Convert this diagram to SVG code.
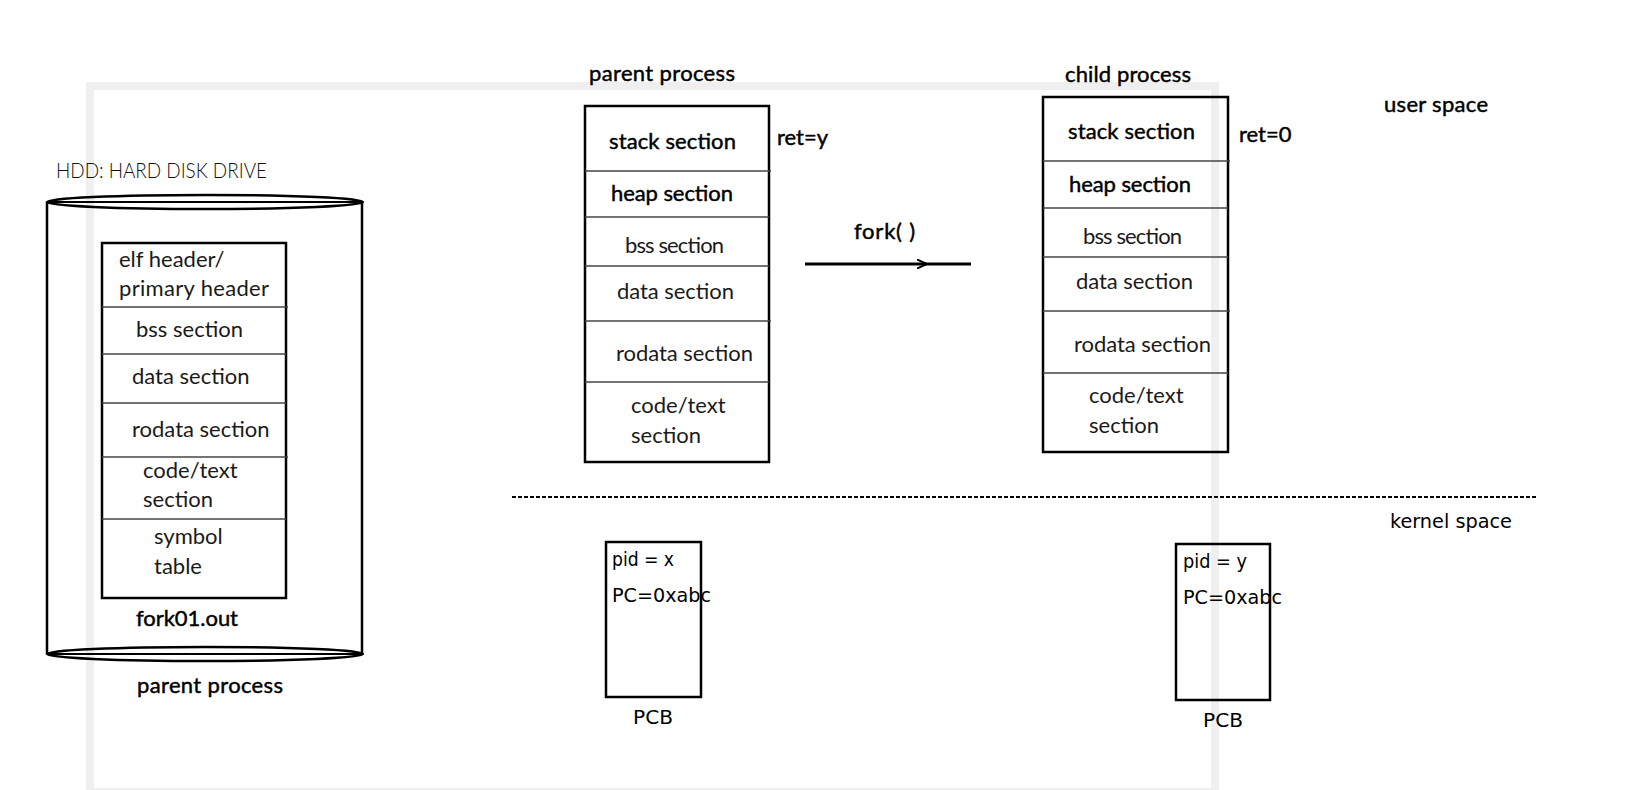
<svg xmlns="http://www.w3.org/2000/svg" width="1634" height="790" viewBox="0 0 1634 790">
<style>
.frame{fill:none;stroke:#efefef;stroke-width:8}
.box{fill:none;stroke:#000;stroke-width:2.5}
.div{stroke:#444;stroke-width:1.5}
.cyl{fill:none;stroke:#000;stroke-width:2.5}
.t{font-family:Lato,"Open Sans",sans-serif;font-size:22px;fill:#111}
.b{font-weight:normal;fill:#000;stroke:#000;stroke-width:0.45}
.l{font-weight:normal;fill:#1a1a1a}
.cn{font-family:"DejaVu Sans Condensed","DejaVu Sans",sans-serif;font-stretch:condensed;font-size:20px;fill:#000}
</style>
<defs>
<marker id="chev" viewBox="0 0 10 10" refX="10" refY="5" markerWidth="10" markerHeight="10" markerUnits="userSpaceOnUse" orient="auto">
<path d="M0,0.5 L10,5 L0,9.5" fill="none" stroke="#000" stroke-width="2"/>
</marker>
</defs>
<rect width="1634" height="790" fill="#fff"/>
<rect class="frame" x="90" y="86" width="1125" height="706"/>

<g id="hdd">
<text class="t" x="56" y="178" font-size="18" font-weight="300" textLength="211" lengthAdjust="spacingAndGlyphs">HDD: HARD DISK DRIVE</text>
<line class="cyl" x1="47" y1="202" x2="47" y2="654"/>
<line class="cyl" x1="362" y1="202" x2="362" y2="654"/>
<ellipse class="cyl" cx="205" cy="202" rx="158" ry="7" fill="#fff"/>
<line x1="48" y1="202" x2="362" y2="202" stroke="#000" stroke-width="2"/>
<ellipse class="cyl" cx="205" cy="654" rx="158" ry="7" fill="#fff"/>
<line x1="48" y1="654" x2="362" y2="654" stroke="#000" stroke-width="2"/>
<rect class="box" x="102" y="243" width="184" height="355" stroke-width="2"/>
<line class="div" x1="102" y1="307" x2="288" y2="307"/>
<line class="div" x1="102" y1="354" x2="286" y2="354"/>
<line class="div" x1="102" y1="403" x2="286" y2="403"/>
<line class="div" x1="102" y1="457" x2="288" y2="457"/>
<line class="div" x1="102" y1="519" x2="286" y2="519"/>
<text class="t l" x="119" y="267">elf header/</text>
<text class="t l" x="119" y="296" textLength="150">primary header</text>
<text class="t l" x="136" y="337">bss section</text>
<text class="t l" x="132" y="384">data section</text>
<text class="t l" x="132" y="437">rodata section</text>
<text class="t l" x="143" y="478">code/text</text>
<text class="t l" x="143" y="507">section</text>
<text class="t l" x="154" y="544">symbol</text>
<text class="t l" x="154" y="574">table</text>
<text class="t b" x="136" y="626" textLength="102">fork01.out</text>
<text class="t b" x="137" y="693" textLength="146">parent process</text>
</g>

<g id="parent-process">
<text class="t b" x="589" y="81" textLength="146">parent process</text>
<rect class="box" x="585" y="106" width="184" height="356" fill="#fff"/>
<line class="div" x1="585" y1="171" x2="771" y2="171"/>
<line class="div" x1="585" y1="217" x2="769" y2="217"/>
<line class="div" x1="585" y1="266" x2="769" y2="266"/>
<line class="div" x1="585" y1="321" x2="771" y2="321"/>
<line class="div" x1="585" y1="382" x2="769" y2="382"/>
<text class="t b" x="609" y="149" textLength="127">stack section</text>
<text class="t b" x="611" y="201" textLength="122">heap section</text>
<text class="t l" x="625" y="253" textLength="99">bss section</text>
<text class="t l" x="617" y="299" textLength="117">data section</text>
<text class="t l" x="616" y="361" textLength="137">rodata section</text>
<text class="t l" x="631" y="413">code/text</text>
<text class="t l" x="631" y="443">section</text>
<text class="t b" x="777" y="145">ret=y</text>
</g>

<g id="child-process">
<text class="t b" x="1065" y="82" textLength="126">child process</text>
<rect class="box" x="1043" y="97" width="185" height="355" fill="none"/>
<line class="div" x1="1043" y1="161" x2="1230" y2="161"/>
<line class="div" x1="1043" y1="208" x2="1228" y2="208"/>
<line class="div" x1="1043" y1="257" x2="1228" y2="257"/>
<line class="div" x1="1043" y1="311" x2="1230" y2="311"/>
<line class="div" x1="1043" y1="373" x2="1228" y2="373"/>
<text class="t b" x="1068" y="139" textLength="127">stack section</text>
<text class="t b" x="1069" y="192" textLength="122">heap section</text>
<text class="t l" x="1083" y="244" textLength="99">bss section</text>
<text class="t l" x="1076" y="289" textLength="117">data section</text>
<text class="t l" x="1074" y="352" textLength="137">rodata section</text>
<text class="t l" x="1089" y="403">code/text</text>
<text class="t l" x="1089" y="433">section</text>
<text class="t b" x="1239" y="142">ret=0</text>
</g>

<g id="labels">
<text class="t b" x="1384" y="112" font-size="20" textLength="104">user space</text>
<text class="cn" x="1390" y="528" textLength="122" lengthAdjust="spacingAndGlyphs">kernel space</text>
</g>

<g id="pcb-parent">
<rect class="box" x="606" y="542" width="95" height="155"/>
<text class="cn" x="612" y="566" textLength="62" lengthAdjust="spacingAndGlyphs">pid = x</text>
<text class="cn" x="612" y="602" textLength="99" lengthAdjust="spacingAndGlyphs">PC=0xabc</text>
<text class="cn" x="633" y="724" textLength="40" lengthAdjust="spacingAndGlyphs">PCB</text>
</g>

<g id="pcb-child">
<rect class="box" x="1176" y="544" width="94" height="156"/>
<text class="cn" x="1183" y="568" textLength="64" lengthAdjust="spacingAndGlyphs">pid = y</text>
<text class="cn" x="1183" y="604" textLength="99" lengthAdjust="spacingAndGlyphs">PC=0xabc</text>
<text class="cn" x="1203" y="727" textLength="40" lengthAdjust="spacingAndGlyphs">PCB</text>
</g>

<g id="connectors">
<polyline points="805,264 927,264 971,264" fill="none" stroke="#000" stroke-width="3" marker-mid="url(#chev)"/>
<text class="t b" x="854" y="239" textLength="61">fork( )</text>
<line x1="512" y1="497" x2="1537" y2="497" stroke="#000" stroke-width="2" stroke-dasharray="4,2"/>
</g>
</svg>
